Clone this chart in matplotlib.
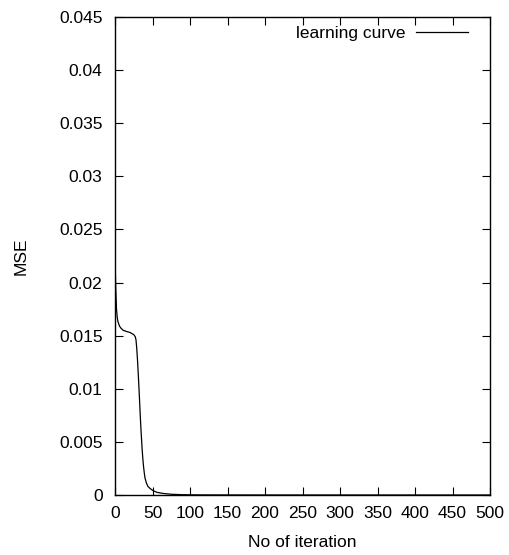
import matplotlib
matplotlib.use('Agg')
import matplotlib.pyplot as plt

plt.rcParams['font.family'] = ['Liberation Sans', 'DejaVu Sans']

# values
iterations = [0, 1, 2, 3, 4, 6, 8, 11, 15, 20, 25, 27, 28, 29, 30, 31, 32, 33, 34,
              35, 36, 37, 38, 39, 40, 42, 44, 47, 51, 56, 64, 75, 90, 110, 150,
              200, 300, 400, 500]
mse = [0.0222, 0.0195, 0.0175, 0.0167, 0.0163, 0.0159, 0.0157, 0.0155, 0.0154,
       0.0153, 0.0151, 0.0149, 0.0146, 0.0138, 0.0127, 0.0114, 0.0100, 0.0085,
       0.0070, 0.0057, 0.0045, 0.0035, 0.0027, 0.0021, 0.0016, 0.0011, 0.0008,
       0.0006, 0.0004, 0.00025, 0.00015, 0.00007, 0.00003, 0.00001, 0.000005,
       0.000002, 0.000001, 0.0000005, 0.0000003]

xticks = list(range(0, 501, 50))
yticks = [0, 0.005, 0.01, 0.015, 0.02, 0.025, 0.03, 0.035, 0.04, 0.045]
ytick_labels = ['0', '0.005', '0.01', '0.015', '0.02', '0.025', '0.03',
                '0.035', '0.04', '0.045']

fs = 12.5

fig = plt.figure(figsize=(5.1, 5.55), dpi=100)
ax = fig.add_axes([0.2255, 0.1081, 0.7353, 0.8613])

ax.plot(iterations, mse, color='black', linewidth=0.9, label='learning curve')

ax.set_xlim(0, 500)
ax.set_ylim(0, 0.045)
ax.set_xticks(xticks)
ax.set_xticklabels([str(t) for t in xticks])
ax.set_yticks(yticks)
ax.set_yticklabels(ytick_labels)
ax.tick_params(direction='in', length=6, width=0.8, top=True, right=True,
               labelsize=fs)
ax.tick_params(axis='y', pad=9)
ax.tick_params(axis='x', pad=8)
for s in ax.spines.values():
    s.set_linewidth(1.0)

ax.set_xlabel('No of iteration', fontsize=fs, labelpad=10)
ax.set_ylabel('MSE', fontsize=fs, labelpad=22)

ax.legend(loc='upper right', bbox_to_anchor=(0.96, 0.995), frameon=False,
          markerfirst=False, fontsize=fs, handlelength=3.0, handletextpad=0.6,
          borderaxespad=0.0)

fig.savefig('out.png', dpi=100)
